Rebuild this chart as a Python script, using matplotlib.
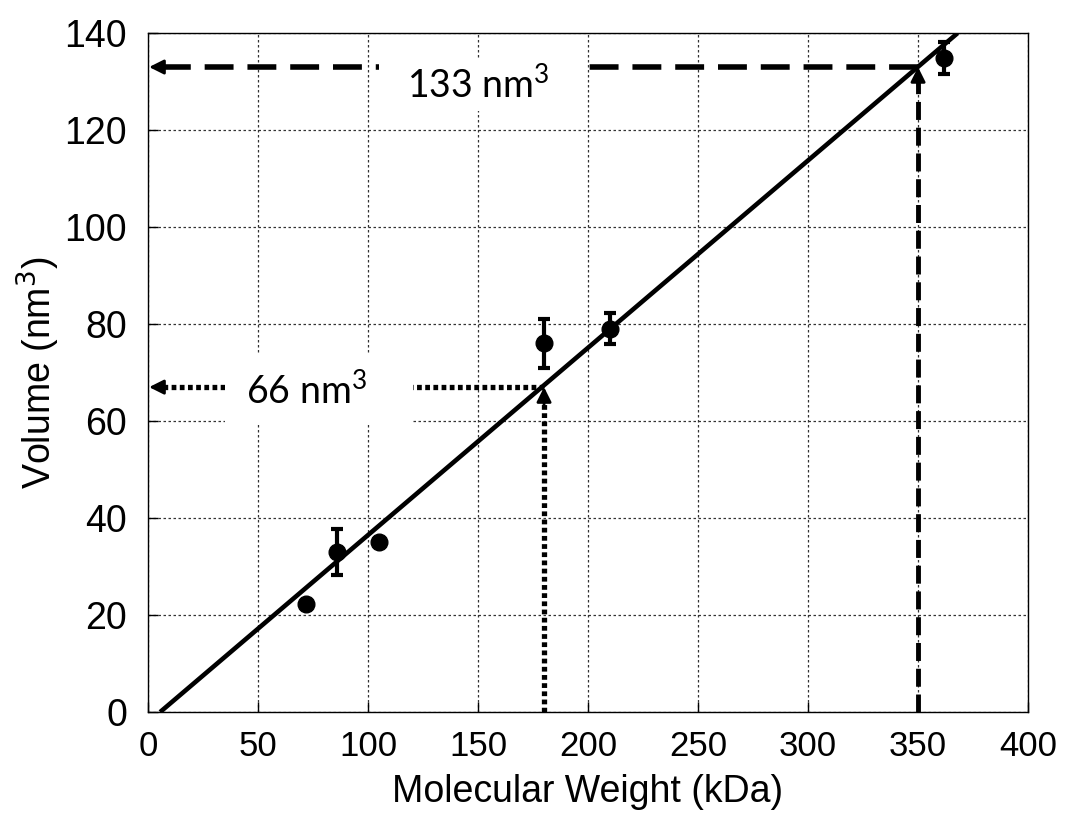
import matplotlib
matplotlib.use('Agg')
import matplotlib.pyplot as plt
from matplotlib.patches import Rectangle

plt.rcParams['font.family'] = ['Liberation Sans', 'DejaVu Sans']
plt.rcParams['mathtext.fontset'] = 'custom'
plt.rcParams['mathtext.rm'] = 'Lato'
plt.rcParams['mathtext.it'] = 'Lato:italic'

# measured proteins (kDa, nm^3) with error bars
mw = [72, 86, 105, 180, 210, 362]
vol = [22.3, 33, 35, 76, 79, 134.8]
vol_err = [0, 4.7, 0, 5, 3.2, 3.3]

# linear fit drawn across the plot
fit_x = [5.5, 368]
fit_y = [0, 140]

# read-off guides
guide_mw = [180, 350]
guide_vol = [67, 133]

fig = plt.figure(figsize=(10.68, 8.27), dpi=100)
ax = fig.add_axes([0.1386, 0.139, 0.824, 0.821])

ax.set_xlim(0, 400)
ax.set_ylim(0, 140)
ax.set_xticks(range(0, 401, 50))
ax.set_yticks(range(0, 141, 20))
ax.grid(True, linestyle=(0, (2, 2)), color='#333333', linewidth=0.9)
ax.tick_params(direction='in', length=7, width=1)
ax.tick_params(axis='x', labelsize=25, pad=13)
ax.tick_params(axis='y', labelsize=27, pad=15)
for s in ax.spines.values():
    s.set_linewidth(1.0)

ax.plot(fit_x, fit_y, color='black', lw=3.3, zorder=4, solid_capstyle='butt')
ax.errorbar(mw, vol, yerr=vol_err, fmt='o', color='black', ms=12,
            elinewidth=3, capsize=4, capthick=3, zorder=5)

# 66 nm^3 dotted guides
dot = (0, (0.9, 0.65))
ax.plot([guide_mw[0], guide_mw[0]], [0, guide_vol[0] - 3], color='black', lw=3.8,
        linestyle=dot, dash_capstyle='butt', zorder=3)
ax.plot([guide_mw[0], 6], [guide_vol[0], guide_vol[0]], color='black', lw=3.8,
        linestyle=dot, dash_capstyle='butt', zorder=3)
# 133 nm^3 dashed guides
ax.plot([guide_mw[1], guide_mw[1]], [0, guide_vol[1] - 3], color='black', lw=3.5,
        linestyle=(0, (3.7, 1.6)), dash_capstyle='butt', zorder=3)
ax.plot([guide_mw[1], 6], [guide_vol[1], guide_vol[1]], color='black', lw=4,
        linestyle=(0, (5.2, 2.5)), dash_capstyle='butt', zorder=3)

arrow = dict(arrowstyle='-|>', color='black', lw=2, mutation_scale=22, shrinkA=0, shrinkB=0)
for gx, gy in zip(guide_mw, guide_vol):
    ax.annotate('', xy=(0.5, gy), xytext=(8, gy), arrowprops=arrow, zorder=6)
    ax.annotate('', xy=(gx, gy), xytext=(gx, gy - 4), arrowprops=arrow, zorder=6)

# white patches behind the labels, hiding grid and guide lines
ax.add_patch(Rectangle((35, 59.1), 85.5, 14.5, facecolor='white', edgecolor='none', zorder=6.5))
ax.add_patch(Rectangle((105, 124), 93, 10.4, facecolor='white', edgecolor='none', zorder=6.5))
ax.text(72, 66.2, '66 nm$^3$', fontsize=27, family=['Lato', 'DejaVu Sans'],
        ha='center', va='center', zorder=7)
ax.text(150, 129.2, '133 nm$^3$', fontsize=27, family=['Lato', 'DejaVu Sans'],
        ha='center', va='center', zorder=7)

ax.set_xlabel('Molecular Weight (kDa)', fontsize=27, labelpad=8)
yl = ax.set_ylabel('Volume (nm$^3$)', fontsize=27, labelpad=2)
yl.set_math_fontfamily('dejavusans')

fig.savefig('out.png', dpi=100)
